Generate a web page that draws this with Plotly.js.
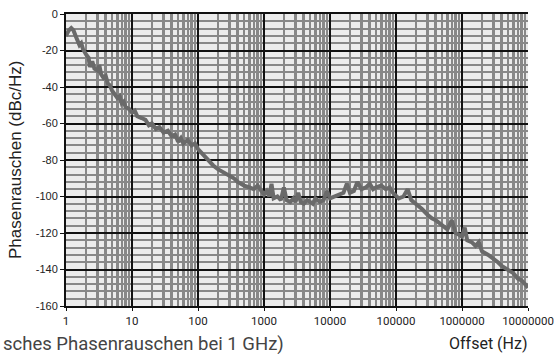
<!DOCTYPE html>
<html>
<head>
<meta charset="utf-8">
<script src="https://cdn.plot.ly/plotly-3.0.1.min.js"></script>
<style>html,body{margin:0;padding:0;background:#fff;}#chart{width:554px;height:354px;}</style>
</head>
<body>
<div id="chart"></div>
<script>
// Offset frequency (Hz) and phase noise (dBc/Hz)
const offsetHz = [
  1, 1.1, 1.2, 1.3, 1.4, 1.5, 1.6, 1.7, 1.8, 2.0, 2.2, 2.3, 2.5, 2.7, 3.0, 3.2, 3.4, 3.7, 4.0, 4.3, 4.6,
  5.0, 5.5, 6.0, 6.5, 7.0, 7.5, 8.0, 9.0,
  10, 11, 12, 14, 16, 18, 20, 23, 26, 30, 35, 40, 45, 50, 55, 60, 70, 80, 90,
  100, 120, 140, 170, 200, 250, 300, 350, 400, 500, 600, 700, 800, 900,
  1000, 1100, 1200, 1300, 1400, 1600, 1800, 2000, 2200, 2500, 2800, 3000, 3300, 3600, 4000, 4500,
  5000, 5500, 6000, 7000, 8000, 9000,
  10000, 12000, 14000, 16000, 18000, 20000, 23000, 26000, 30000, 35000, 40000, 45000, 50000,
  60000, 70000, 80000, 90000,
  100000, 110000, 130000, 150000, 170000, 200000, 250000, 300000, 350000, 400000, 500000,
  600000, 700000, 800000, 900000,
  1000000, 1100000, 1200000, 1400000, 1600000, 1800000, 2000000, 2500000, 3000000, 3500000,
  4000000, 5000000, 6000000, 7000000, 8000000, 9000000, 10000000
];
const phaseNoise = [
  -12, -9, -7.7, -9, -12, -14, -17, -16, -19, -22, -24, -29, -26, -30, -31, -28, -33, -35, -34, -38, -39,
  -42, -44, -46, -45, -49, -48, -51, -52,
  -54, -53, -56, -57, -58, -61, -60, -63, -62, -65, -64, -67, -66, -70, -68, -71, -69, -72, -71,
  -74, -77, -80, -83, -85, -87, -89, -90, -92, -94, -95, -96, -94, -97,
  -99, -97, -100, -93, -101, -100, -102, -95, -102, -103, -101, -103, -98, -103, -104, -102,
  -103, -104, -101, -103, -102, -97,
  -101, -100, -99, -98, -93, -98, -97, -92, -96, -95, -93, -96, -95,
  -94, -96, -95, -98,
  -100, -101, -100, -96, -102, -104, -107, -110, -112, -113, -116,
  -118, -113, -120, -121,
  -122, -117, -124, -125, -127, -125, -130, -132, -134, -136,
  -138, -140, -142, -145, -146, -148, -150
];
const xTickVals = [1, 10, 100, 1000, 10000, 100000, 1000000, 10000000];
const xTickText = ['1', '10', '100', '1000', '10000', '100000', '1000000', '10000000'];
const yTickVals = [-160, -140, -120, -100, -80, -60, -40, -20, 0];
const yTickText = ['-160', '-140', '-120', '-100', '-80', '-60', '-40', '-20', '0'];

const trace = {
  x: offsetHz,
  y: phaseNoise,
  type: 'scatter',
  mode: 'lines',
  line: {color: '#6a6a6a', width: 4},
  hoverinfo: 'skip'
};

const layout = {
  width: 554,
  height: 354,
  margin: {l: 66, r: 26, t: 14, b: 48},
  paper_bgcolor: '#ffffff',
  plot_bgcolor: '#ececec',
  showlegend: false,
  xaxis: {
    type: 'log',
    range: [0, 7],
    tickmode: 'array',
    tickvals: xTickVals,
    ticktext: xTickText,
    showgrid: true,
    gridcolor: '#111111',
    gridwidth: 2,
    minor: {dtick: 'D1', showgrid: true, gridcolor: '#888888', gridwidth: 2.5},
    showline: true,
    linecolor: '#111111',
    linewidth: 2,
    mirror: true,
    ticks: 'outside',
    ticklen: 3,
    tickcolor: '#111111',
    tickfont: {family: 'Roboto, sans-serif', size: 11.5, color: '#222222'},
    zeroline: false
  },
  yaxis: {
    range: [-160, 0],
    tickmode: 'array',
    tickvals: yTickVals,
    ticktext: yTickText,
    showgrid: true,
    gridcolor: '#111111',
    gridwidth: 2,
    minor: {dtick: 4, showgrid: true, gridcolor: '#888888', gridwidth: 2},
    showline: true,
    linecolor: '#111111',
    linewidth: 2,
    ticks: 'outside',
    ticklen: 4,
    tickcolor: '#111111',
    tickfont: {family: '"Liberation Sans", Arial, sans-serif', size: 11, color: '#222222'},
    zeroline: false
  },
  annotations: [
    {
      text: 'Phasenrauschen (dBc/Hz)',
      xref: 'paper', yref: 'paper',
      x: -51 / 462, y: 0.5,
      xanchor: 'center', yanchor: 'middle',
      textangle: -90,
      showarrow: false,
      font: {family: '"Liberation Sans", Arial, sans-serif', size: 17, color: '#222222'}
    },
    {
      text: 'Offset (Hz)',
      xref: 'paper', yref: 'paper',
      x: (488 - 66) / 462, y: -(343 - 306) / 292,
      xanchor: 'center', yanchor: 'middle',
      showarrow: false,
      font: {family: 'Roboto, sans-serif', size: 16, color: '#222222'}
    },
    {
      text: 'sches Phasenrauschen bei 1 GHz)',
      xref: 'paper', yref: 'paper',
      x: -65 / 462, y: -(344 - 306) / 292,
      xanchor: 'left', yanchor: 'middle',
      showarrow: false,
      font: {family: 'Roboto, sans-serif', size: 18.5, color: '#444444'}
    }
  ]
};

Plotly.newPlot('chart', [trace], layout, {displayModeBar: false, staticPlot: true});
</script>
</body>
</html>
